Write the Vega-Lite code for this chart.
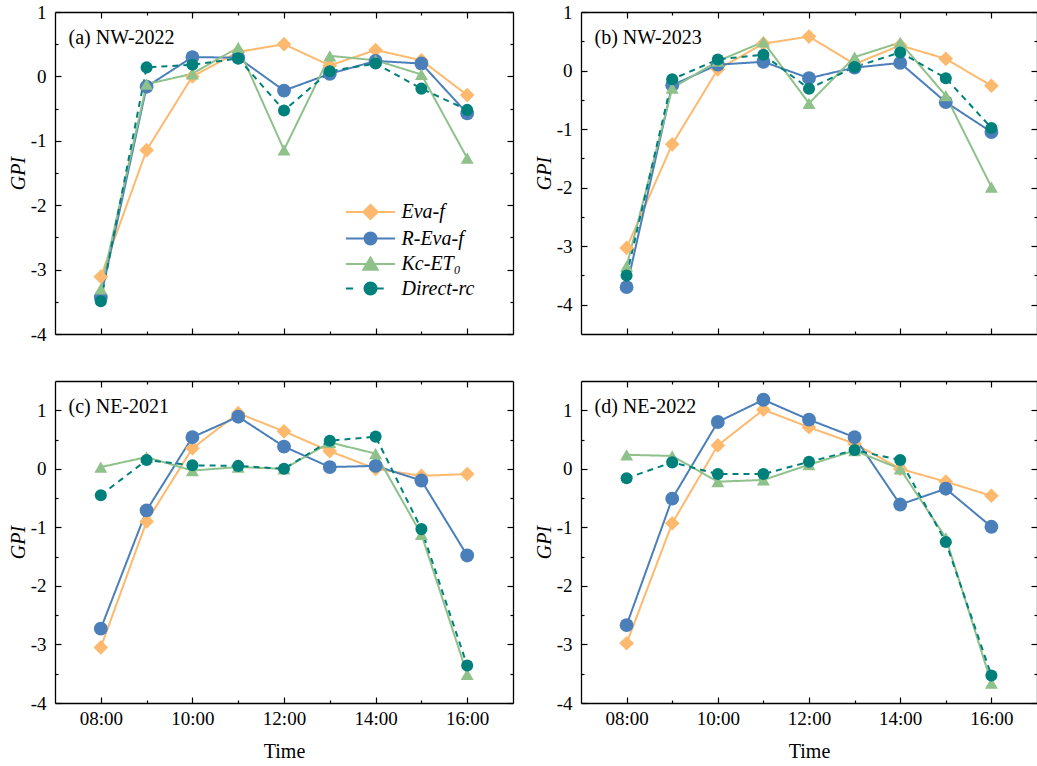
{
  "$schema": "https://vega.github.io/schema/vega-lite/v6.json",
  "padding": {"left": 8, "top": 3, "right": 0, "bottom": 0},
  "background": "white",
  "data": {"values": [
    {"p":"a","m":"Eva-f","t":8,"v":-3.11},{"p":"a","m":"Eva-f","t":9,"v":-1.145},{"p":"a","m":"Eva-f","t":10,"v":0.0},{"p":"a","m":"Eva-f","t":11,"v":0.38},{"p":"a","m":"Eva-f","t":12,"v":0.5},{"p":"a","m":"Eva-f","t":13,"v":0.17},{"p":"a","m":"Eva-f","t":14,"v":0.41},{"p":"a","m":"Eva-f","t":15,"v":0.25},{"p":"a","m":"Eva-f","t":16,"v":-0.29},
    {"p":"a","m":"R-Eva-f","t":8,"v":-3.43},{"p":"a","m":"R-Eva-f","t":9,"v":-0.16},{"p":"a","m":"R-Eva-f","t":10,"v":0.3},{"p":"a","m":"R-Eva-f","t":11,"v":0.29},{"p":"a","m":"R-Eva-f","t":12,"v":-0.22},{"p":"a","m":"R-Eva-f","t":13,"v":0.04},{"p":"a","m":"R-Eva-f","t":14,"v":0.24},{"p":"a","m":"R-Eva-f","t":15,"v":0.2},{"p":"a","m":"R-Eva-f","t":16,"v":-0.575},
    {"p":"a","m":"Kc-ET0","t":8,"v":-3.3},{"p":"a","m":"Kc-ET0","t":9,"v":-0.12},{"p":"a","m":"Kc-ET0","t":10,"v":0.04},{"p":"a","m":"Kc-ET0","t":11,"v":0.45},{"p":"a","m":"Kc-ET0","t":12,"v":-1.14},{"p":"a","m":"Kc-ET0","t":13,"v":0.32},{"p":"a","m":"Kc-ET0","t":14,"v":0.25},{"p":"a","m":"Kc-ET0","t":15,"v":0.03},{"p":"a","m":"Kc-ET0","t":16,"v":-1.27},
    {"p":"a","m":"Direct-rc","t":8,"v":-3.49},{"p":"a","m":"Direct-rc","t":9,"v":0.14},{"p":"a","m":"Direct-rc","t":10,"v":0.18},{"p":"a","m":"Direct-rc","t":11,"v":0.28},{"p":"a","m":"Direct-rc","t":12,"v":-0.53},{"p":"a","m":"Direct-rc","t":13,"v":0.08},{"p":"a","m":"Direct-rc","t":14,"v":0.2},{"p":"a","m":"Direct-rc","t":15,"v":-0.19},{"p":"a","m":"Direct-rc","t":16,"v":-0.52},
    {"p":"b","m":"Eva-f","t":8,"v":-3.03},{"p":"b","m":"Eva-f","t":9,"v":-1.26},{"p":"b","m":"Eva-f","t":10,"v":0.02},{"p":"b","m":"Eva-f","t":11,"v":0.46},{"p":"b","m":"Eva-f","t":12,"v":0.58},{"p":"b","m":"Eva-f","t":13,"v":0.11},{"p":"b","m":"Eva-f","t":14,"v":0.43},{"p":"b","m":"Eva-f","t":15,"v":0.2},{"p":"b","m":"Eva-f","t":16,"v":-0.26},
    {"p":"b","m":"R-Eva-f","t":8,"v":-3.7},{"p":"b","m":"R-Eva-f","t":9,"v":-0.25},{"p":"b","m":"R-Eva-f","t":10,"v":0.1},{"p":"b","m":"R-Eva-f","t":11,"v":0.15},{"p":"b","m":"R-Eva-f","t":12,"v":-0.13},{"p":"b","m":"R-Eva-f","t":13,"v":0.05},{"p":"b","m":"R-Eva-f","t":14,"v":0.13},{"p":"b","m":"R-Eva-f","t":15,"v":-0.54},{"p":"b","m":"R-Eva-f","t":16,"v":-1.05},
    {"p":"b","m":"Kc-ET0","t":8,"v":-3.34},{"p":"b","m":"Kc-ET0","t":9,"v":-0.3},{"p":"b","m":"Kc-ET0","t":10,"v":0.16},{"p":"b","m":"Kc-ET0","t":11,"v":0.49},{"p":"b","m":"Kc-ET0","t":12,"v":-0.56},{"p":"b","m":"Kc-ET0","t":13,"v":0.23},{"p":"b","m":"Kc-ET0","t":14,"v":0.48},{"p":"b","m":"Kc-ET0","t":15,"v":-0.43},{"p":"b","m":"Kc-ET0","t":16,"v":-1.99},
    {"p":"b","m":"Direct-rc","t":8,"v":-3.5},{"p":"b","m":"Direct-rc","t":9,"v":-0.15},{"p":"b","m":"Direct-rc","t":10,"v":0.19},{"p":"b","m":"Direct-rc","t":11,"v":0.27},{"p":"b","m":"Direct-rc","t":12,"v":-0.31},{"p":"b","m":"Direct-rc","t":13,"v":0.06},{"p":"b","m":"Direct-rc","t":14,"v":0.31},{"p":"b","m":"Direct-rc","t":15,"v":-0.13},{"p":"b","m":"Direct-rc","t":16,"v":-0.98},
    {"p":"c","m":"Eva-f","t":8,"v":-3.05},{"p":"c","m":"Eva-f","t":9,"v":-0.9},{"p":"c","m":"Eva-f","t":10,"v":0.35},{"p":"c","m":"Eva-f","t":11,"v":0.95},{"p":"c","m":"Eva-f","t":12,"v":0.64},{"p":"c","m":"Eva-f","t":13,"v":0.3},{"p":"c","m":"Eva-f","t":14,"v":0.0},{"p":"c","m":"Eva-f","t":15,"v":-0.12},{"p":"c","m":"Eva-f","t":16,"v":-0.09},
    {"p":"c","m":"R-Eva-f","t":8,"v":-2.73},{"p":"c","m":"R-Eva-f","t":9,"v":-0.71},{"p":"c","m":"R-Eva-f","t":10,"v":0.54},{"p":"c","m":"R-Eva-f","t":11,"v":0.89},{"p":"c","m":"R-Eva-f","t":12,"v":0.38},{"p":"c","m":"R-Eva-f","t":13,"v":0.03},{"p":"c","m":"R-Eva-f","t":14,"v":0.05},{"p":"c","m":"R-Eva-f","t":15,"v":-0.2},{"p":"c","m":"R-Eva-f","t":16,"v":-1.48},
    {"p":"c","m":"Kc-ET0","t":8,"v":0.03},{"p":"c","m":"Kc-ET0","t":9,"v":0.2},{"p":"c","m":"Kc-ET0","t":10,"v":-0.03},{"p":"c","m":"Kc-ET0","t":11,"v":0.03},{"p":"c","m":"Kc-ET0","t":12,"v":0.0},{"p":"c","m":"Kc-ET0","t":13,"v":0.45},{"p":"c","m":"Kc-ET0","t":14,"v":0.26},{"p":"c","m":"Kc-ET0","t":15,"v":-1.12},{"p":"c","m":"Kc-ET0","t":16,"v":-3.51},
    {"p":"c","m":"Direct-rc","t":8,"v":-0.45},{"p":"c","m":"Direct-rc","t":9,"v":0.15},{"p":"c","m":"Direct-rc","t":10,"v":0.06},{"p":"c","m":"Direct-rc","t":11,"v":0.05},{"p":"c","m":"Direct-rc","t":12,"v":0.0},{"p":"c","m":"Direct-rc","t":13,"v":0.48},{"p":"c","m":"Direct-rc","t":14,"v":0.55},{"p":"c","m":"Direct-rc","t":15,"v":-1.03},{"p":"c","m":"Direct-rc","t":16,"v":-3.36},
    {"p":"d","m":"Eva-f","t":8,"v":-2.98},{"p":"d","m":"Eva-f","t":9,"v":-0.93},{"p":"d","m":"Eva-f","t":10,"v":0.4},{"p":"d","m":"Eva-f","t":11,"v":1.01},{"p":"d","m":"Eva-f","t":12,"v":0.71},{"p":"d","m":"Eva-f","t":13,"v":0.43},{"p":"d","m":"Eva-f","t":14,"v":0.0},{"p":"d","m":"Eva-f","t":15,"v":-0.22},{"p":"d","m":"Eva-f","t":16,"v":-0.46},
    {"p":"d","m":"R-Eva-f","t":8,"v":-2.67},{"p":"d","m":"R-Eva-f","t":9,"v":-0.51},{"p":"d","m":"R-Eva-f","t":10,"v":0.8},{"p":"d","m":"R-Eva-f","t":11,"v":1.18},{"p":"d","m":"R-Eva-f","t":12,"v":0.84},{"p":"d","m":"R-Eva-f","t":13,"v":0.54},{"p":"d","m":"R-Eva-f","t":14,"v":-0.61},{"p":"d","m":"R-Eva-f","t":15,"v":-0.34},{"p":"d","m":"R-Eva-f","t":16,"v":-0.99},
    {"p":"d","m":"Kc-ET0","t":8,"v":0.24},{"p":"d","m":"Kc-ET0","t":9,"v":0.22},{"p":"d","m":"Kc-ET0","t":10,"v":-0.22},{"p":"d","m":"Kc-ET0","t":11,"v":-0.19},{"p":"d","m":"Kc-ET0","t":12,"v":0.07},{"p":"d","m":"Kc-ET0","t":13,"v":0.31},{"p":"d","m":"Kc-ET0","t":14,"v":0.0},{"p":"d","m":"Kc-ET0","t":15,"v":-1.18},{"p":"d","m":"Kc-ET0","t":16,"v":-3.66},
    {"p":"d","m":"Direct-rc","t":8,"v":-0.16},{"p":"d","m":"Direct-rc","t":9,"v":0.11},{"p":"d","m":"Direct-rc","t":10,"v":-0.09},{"p":"d","m":"Direct-rc","t":11,"v":-0.09},{"p":"d","m":"Direct-rc","t":12,"v":0.12},{"p":"d","m":"Direct-rc","t":13,"v":0.32},{"p":"d","m":"Direct-rc","t":14,"v":0.15},{"p":"d","m":"Direct-rc","t":15,"v":-1.25},{"p":"d","m":"Direct-rc","t":16,"v":-3.53}
  ]},
  "columns": 2,
  "spacing": {"row": 36, "column": 20},
  "resolve": {"scale": {"color": "independent", "shape": "independent", "strokeDash": "independent", "stroke": "independent", "size": "independent"}},
  "concat": [
    {
      "width": 458, "height": 322,
      "transform": [{"filter": "datum.p === 'a'"}],
      "layer": [
        {
          "mark": {"type": "line", "strokeWidth": 2},
          "encoding": {
            "x": {"field": "t", "type": "quantitative", "scale": {"domain": [7, 17], "nice": false, "zero": false},
                  "axis": {"orient": "bottom", "values": [8,9,10,11,12,13,14,15,16], "labels": false, "title": null, "tickSize": {"condition": {"test": "datum.value % 2 === 0", "value": -6}, "value": -3}}},
            "y": {"field": "v", "type": "quantitative", "scale": {"domain": [-4, 1], "nice": false, "zero": false},
                  "axis": {"orient": "left", "values": [-4,-3.5,-3,-2.5,-2,-1.5,-1,-0.5,0,0.5,1], "labelExpr": "datum.value % 1 === 0 ? '' + datum.value : ''", "labelPadding": 15, "title": "GPI", "titleFontStyle": "italic", "titlePadding": 2, "tickSize": {"condition": {"test": "datum.value % 1 === 0", "value": -6}, "value": -3}}},
            "color": {"field": "m", "type": "nominal", "scale": {"domain": ["Eva-f","R-Eva-f","Kc-ET0","Direct-rc"], "range": ["#FDB96E","#4B7FBA","#8FC18B","#00807A"]}, "legend": null},
            "strokeDash": {"field": "m", "type": "nominal", "scale": {"domain": ["Eva-f","R-Eva-f","Kc-ET0","Direct-rc"], "range": [[1,0],[1,0],[1,0],[6,5]]}, "legend": null}
          }
        },
        {
          "mark": {"type": "point", "filled": true, "opacity": 1},
          "encoding": {
            "x": {"field": "t", "type": "quantitative", "axis": {"orient": "top", "values": [8,9,10,11,12,13,14,15,16], "labels": false, "title": "(a) NW-2022", "titleX": 13, "titleY": 31, "titleAlign": "left", "titleAngle": 0, "titleBaseline": "alphabetic", "tickSize": {"condition": {"test": "datum.value % 2 === 0", "value": -6}, "value": -3}}},
            "y": {"field": "v", "type": "quantitative", "axis": {"orient": "right", "values": [-4,-3.5,-3,-2.5,-2,-1.5,-1,-0.5,0,0.5,1], "labels": false, "title": null, "tickSize": {"condition": {"test": "datum.value % 1 === 0", "value": -6}, "value": -3}}},
            "color": {"field": "m", "type": "nominal", "scale": {"domain": ["Eva-f","R-Eva-f","Kc-ET0","Direct-rc"], "range": ["#FDB96E","#4B7FBA","#8FC18B","#00807A"]}, "legend": null},
            "shape": {"field": "m", "type": "nominal", "scale": {"domain": ["Eva-f","R-Eva-f","Kc-ET0","Direct-rc"], "range": ["diamond","circle","triangle-up","circle"]}, "legend": null},
            "size": {"field": "m", "type": "nominal", "scale": {"domain": ["Eva-f","R-Eva-f","Kc-ET0","Direct-rc"], "range": [215, 145, 190, 145]}, "legend": null}
          }
        },
        {
          "transform": [{"filter": "false"}],
          "mark": {"type": "point", "filled": true, "opacity": 1},
          "encoding": {
            "color": {"field": "m", "type": "nominal", "scale": {"domain": ["Eva-f","R-Eva-f","Kc-ET0","Direct-rc"], "range": ["#FDB96E","#4B7FBA","#8FC18B","#00807A"]},
                      "legend": {"orient": "none", "legendX": 291, "legendY": 190, "title": null, "padding": 0, "symbolSize": 144, "symbolOffset": 14.5, "labelOffset": 21, "rowPadding": 4.5, "symbolStrokeWidth": 2, "symbolOpacity": 1, "labelFont": "Liberation Serif", "labelFontSize": 20, "labelFontStyle": "italic", "labelColor": "black", "labelLimit": 300, "labelExpr": "datum.label === 'Kc-ET0' ? 'Kc-ET₀' : datum.label"}},
            "stroke": {"field": "m", "type": "nominal", "scale": {"domain": ["Eva-f","R-Eva-f","Kc-ET0","Direct-rc"], "range": ["#FDB96E","#4B7FBA","#8FC18B","#00807A"]},
                      "legend": {"orient": "none", "legendX": 291, "legendY": 190, "title": null, "padding": 0, "symbolSize": 144, "symbolOffset": 14.5, "labelOffset": 21, "rowPadding": 4.5, "symbolStrokeWidth": 2, "symbolOpacity": 1, "labelFont": "Liberation Serif", "labelFontSize": 20, "labelFontStyle": "italic", "labelColor": "black", "labelLimit": 300, "labelExpr": "datum.label === 'Kc-ET0' ? 'Kc-ET₀' : datum.label"}},
            "shape": {"field": "m", "type": "nominal", "scale": {"domain": ["Eva-f","R-Eva-f","Kc-ET0","Direct-rc"], "range": ["M-4.1,0H4.1M0,-1.2L1.2,0L0,1.2L-1.2,0Z","M-4.1,0H4.1M1,0A1,1,0,1,1,-1,0A1,1,0,1,1,1,0Z","M-4.1,0H4.1M0,-1.1L1.2,0.95L-1.2,0.95Z","M-4.1,0H-2.9M1,0H2.2M1,0A1,1,0,1,1,-1,0A1,1,0,1,1,1,0Z"]},
                      "legend": {"orient": "none", "legendX": 291, "legendY": 190, "title": null, "padding": 0, "symbolSize": 144, "symbolOffset": 14.5, "labelOffset": 21, "rowPadding": 4.5, "symbolStrokeWidth": 2, "symbolOpacity": 1, "labelFont": "Liberation Serif", "labelFontSize": 20, "labelFontStyle": "italic", "labelColor": "black", "labelLimit": 300, "labelExpr": "datum.label === 'Kc-ET0' ? 'Kc-ET₀' : datum.label"}}
          }
        }
      ],
      "resolve": {"scale": {"color": "independent", "shape": "independent", "stroke": "independent"}, "axis": {"x": "independent", "y": "independent"}}
    },
    {
      "width": 456, "height": 322,
      "transform": [{"filter": "datum.p === 'b'"}],
      "layer": [
        {
          "mark": {"type": "line", "strokeWidth": 2},
          "encoding": {
            "x": {"field": "t", "type": "quantitative", "scale": {"domain": [7, 17], "nice": false, "zero": false},
                  "axis": {"orient": "bottom", "values": [8,9,10,11,12,13,14,15,16], "labels": false, "title": null, "tickSize": {"condition": {"test": "datum.value % 2 === 0", "value": -6}, "value": -3}}},
            "y": {"field": "v", "type": "quantitative", "scale": {"domain": [-4.5, 1], "nice": false, "zero": false},
                  "axis": {"orient": "left", "values": [-4,-3.5,-3,-2.5,-2,-1.5,-1,-0.5,0,0.5,1], "labelExpr": "datum.value % 1 === 0 ? '' + datum.value : ''", "labelPadding": 15, "title": "GPI", "titleFontStyle": "italic", "titlePadding": 2, "tickSize": {"condition": {"test": "datum.value % 1 === 0", "value": -6}, "value": -3}}},
            "color": {"field": "m", "type": "nominal", "scale": {"domain": ["Eva-f","R-Eva-f","Kc-ET0","Direct-rc"], "range": ["#FDB96E","#4B7FBA","#8FC18B","#00807A"]}, "legend": null},
            "strokeDash": {"field": "m", "type": "nominal", "scale": {"domain": ["Eva-f","R-Eva-f","Kc-ET0","Direct-rc"], "range": [[1,0],[1,0],[1,0],[6,5]]}, "legend": null}
          }
        },
        {
          "mark": {"type": "point", "filled": true, "opacity": 1},
          "encoding": {
            "x": {"field": "t", "type": "quantitative", "axis": {"orient": "top", "values": [8,9,10,11,12,13,14,15,16], "labels": false, "title": "(b) NW-2023", "titleX": 13, "titleY": 31, "titleAlign": "left", "titleAngle": 0, "titleBaseline": "alphabetic", "tickSize": {"condition": {"test": "datum.value % 2 === 0", "value": -6}, "value": -3}}},
            "y": {"field": "v", "type": "quantitative", "axis": {"orient": "right", "values": [-4,-3.5,-3,-2.5,-2,-1.5,-1,-0.5,0,0.5,1], "labels": false, "title": null, "tickSize": {"condition": {"test": "datum.value % 1 === 0", "value": -6}, "value": -3}}},
            "color": {"field": "m", "type": "nominal", "scale": {"domain": ["Eva-f","R-Eva-f","Kc-ET0","Direct-rc"], "range": ["#FDB96E","#4B7FBA","#8FC18B","#00807A"]}, "legend": null},
            "shape": {"field": "m", "type": "nominal", "scale": {"domain": ["Eva-f","R-Eva-f","Kc-ET0","Direct-rc"], "range": ["diamond","circle","triangle-up","circle"]}, "legend": null},
            "size": {"field": "m", "type": "nominal", "scale": {"domain": ["Eva-f","R-Eva-f","Kc-ET0","Direct-rc"], "range": [215, 145, 190, 145]}, "legend": null}
          }
        }
      ],
      "resolve": {"axis": {"x": "independent", "y": "independent"}}
    },
    {
      "width": 458, "height": 322,
      "transform": [{"filter": "datum.p === 'c'"}],
      "layer": [
        {
          "mark": {"type": "line", "strokeWidth": 2},
          "encoding": {
            "x": {"field": "t", "type": "quantitative", "scale": {"domain": [7, 17], "nice": false, "zero": false},
                  "axis": {"orient": "bottom", "values": [8,9,10,11,12,13,14,15,16], "labelExpr": "datum.value % 2 === 0 ? (datum.value < 10 ? '0' : '') + datum.value + ':00' : ''", "labelPadding": 12, "title": "Time", "titlePadding": 10, "tickSize": {"condition": {"test": "datum.value % 2 === 0", "value": -6}, "value": -3}}},
            "y": {"field": "v", "type": "quantitative", "scale": {"domain": [-4, 1.5], "nice": false, "zero": false},
                  "axis": {"orient": "left", "values": [-4,-3.5,-3,-2.5,-2,-1.5,-1,-0.5,0,0.5,1], "labelExpr": "datum.value % 1 === 0 ? '' + datum.value : ''", "labelPadding": 15, "title": "GPI", "titleFontStyle": "italic", "titlePadding": 2, "tickSize": {"condition": {"test": "datum.value % 1 === 0", "value": -6}, "value": -3}}},
            "color": {"field": "m", "type": "nominal", "scale": {"domain": ["Eva-f","R-Eva-f","Kc-ET0","Direct-rc"], "range": ["#FDB96E","#4B7FBA","#8FC18B","#00807A"]}, "legend": null},
            "strokeDash": {"field": "m", "type": "nominal", "scale": {"domain": ["Eva-f","R-Eva-f","Kc-ET0","Direct-rc"], "range": [[1,0],[1,0],[1,0],[6,5]]}, "legend": null}
          }
        },
        {
          "mark": {"type": "point", "filled": true, "opacity": 1},
          "encoding": {
            "x": {"field": "t", "type": "quantitative", "axis": {"orient": "top", "values": [8,9,10,11,12,13,14,15,16], "labels": false, "title": "(c) NE-2021", "titleX": 13, "titleY": 31, "titleAlign": "left", "titleAngle": 0, "titleBaseline": "alphabetic", "tickSize": {"condition": {"test": "datum.value % 2 === 0", "value": -6}, "value": -3}}},
            "y": {"field": "v", "type": "quantitative", "axis": {"orient": "right", "values": [-4,-3.5,-3,-2.5,-2,-1.5,-1,-0.5,0,0.5,1], "labels": false, "title": null, "tickSize": {"condition": {"test": "datum.value % 1 === 0", "value": -6}, "value": -3}}},
            "color": {"field": "m", "type": "nominal", "scale": {"domain": ["Eva-f","R-Eva-f","Kc-ET0","Direct-rc"], "range": ["#FDB96E","#4B7FBA","#8FC18B","#00807A"]}, "legend": null},
            "shape": {"field": "m", "type": "nominal", "scale": {"domain": ["Eva-f","R-Eva-f","Kc-ET0","Direct-rc"], "range": ["diamond","circle","triangle-up","circle"]}, "legend": null},
            "size": {"field": "m", "type": "nominal", "scale": {"domain": ["Eva-f","R-Eva-f","Kc-ET0","Direct-rc"], "range": [215, 145, 190, 145]}, "legend": null}
          }
        }
      ],
      "resolve": {"axis": {"x": "independent", "y": "independent"}}
    },
    {
      "width": 456, "height": 322,
      "transform": [{"filter": "datum.p === 'd'"}],
      "layer": [
        {
          "mark": {"type": "line", "strokeWidth": 2},
          "encoding": {
            "x": {"field": "t", "type": "quantitative", "scale": {"domain": [7, 17], "nice": false, "zero": false},
                  "axis": {"orient": "bottom", "values": [8,9,10,11,12,13,14,15,16], "labelExpr": "datum.value % 2 === 0 ? (datum.value < 10 ? '0' : '') + datum.value + ':00' : ''", "labelPadding": 12, "title": "Time", "titlePadding": 10, "tickSize": {"condition": {"test": "datum.value % 2 === 0", "value": -6}, "value": -3}}},
            "y": {"field": "v", "type": "quantitative", "scale": {"domain": [-4, 1.5], "nice": false, "zero": false},
                  "axis": {"orient": "left", "values": [-4,-3.5,-3,-2.5,-2,-1.5,-1,-0.5,0,0.5,1], "labelExpr": "datum.value % 1 === 0 ? '' + datum.value : ''", "labelPadding": 15, "title": "GPI", "titleFontStyle": "italic", "titlePadding": 2, "tickSize": {"condition": {"test": "datum.value % 1 === 0", "value": -6}, "value": -3}}},
            "color": {"field": "m", "type": "nominal", "scale": {"domain": ["Eva-f","R-Eva-f","Kc-ET0","Direct-rc"], "range": ["#FDB96E","#4B7FBA","#8FC18B","#00807A"]}, "legend": null},
            "strokeDash": {"field": "m", "type": "nominal", "scale": {"domain": ["Eva-f","R-Eva-f","Kc-ET0","Direct-rc"], "range": [[1,0],[1,0],[1,0],[6,5]]}, "legend": null}
          }
        },
        {
          "mark": {"type": "point", "filled": true, "opacity": 1},
          "encoding": {
            "x": {"field": "t", "type": "quantitative", "axis": {"orient": "top", "values": [8,9,10,11,12,13,14,15,16], "labels": false, "title": "(d) NE-2022", "titleX": 13, "titleY": 31, "titleAlign": "left", "titleAngle": 0, "titleBaseline": "alphabetic", "tickSize": {"condition": {"test": "datum.value % 2 === 0", "value": -6}, "value": -3}}},
            "y": {"field": "v", "type": "quantitative", "axis": {"orient": "right", "values": [-4,-3.5,-3,-2.5,-2,-1.5,-1,-0.5,0,0.5,1], "labels": false, "title": null, "tickSize": {"condition": {"test": "datum.value % 1 === 0", "value": -6}, "value": -3}}},
            "color": {"field": "m", "type": "nominal", "scale": {"domain": ["Eva-f","R-Eva-f","Kc-ET0","Direct-rc"], "range": ["#FDB96E","#4B7FBA","#8FC18B","#00807A"]}, "legend": null},
            "shape": {"field": "m", "type": "nominal", "scale": {"domain": ["Eva-f","R-Eva-f","Kc-ET0","Direct-rc"], "range": ["diamond","circle","triangle-up","circle"]}, "legend": null},
            "size": {"field": "m", "type": "nominal", "scale": {"domain": ["Eva-f","R-Eva-f","Kc-ET0","Direct-rc"], "range": [215, 145, 190, 145]}, "legend": null}
          }
        }
      ],
      "resolve": {"axis": {"x": "independent", "y": "independent"}}
    }
  ],
  "config": {
    "font": "Liberation Serif",
    "view": {"stroke": null},
    "axis": {"domainColor": "black", "domainWidth": 1.3, "tickColor": "black", "tickWidth": 1.2, "labelFont": "Liberation Serif", "labelFontSize": 19, "labelColor": "black", "titleFont": "Liberation Serif", "titleFontSize": 20, "titleFontWeight": "normal", "titleColor": "black", "grid": false, "labelFlush": false, "labelOverlap": false}
  }
}
